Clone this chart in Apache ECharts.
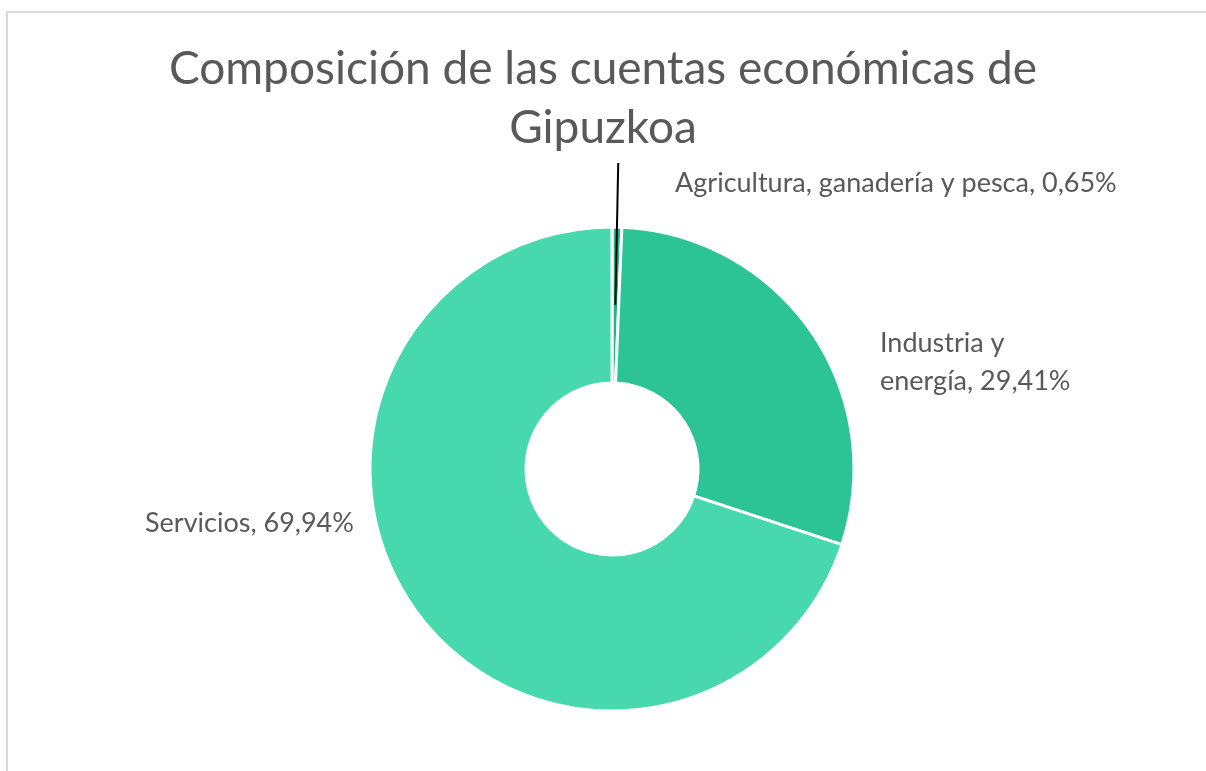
<!DOCTYPE html>
<html>
<head>
<meta charset="utf-8">
<title>Composición de las cuentas económicas de Gipuzkoa</title>
<script src="https://cdn.jsdelivr.net/npm/echarts@6/dist/echarts.min.js"></script>
<style>
  html, body { margin: 0; padding: 0; background: #fff; }
  #chart { width: 1206px; height: 771px; }
</style>
</head>
<body>
<div id="chart"></div>
<script>
// data
var sectors = ['Agricultura, ganadería y pesca', 'Industria y energía', 'Servicios']
var shares = [0.65, 29.41, 69.94]
var colors = ['#22b387', '#2cc495', '#48d8ae']

var FONT = 'Lato'
var GREY = '#595959'

function pct(v) {
  return v.toFixed(2).replace('.', ',') + '%'
}

// Industria label wraps over two lines in the original
function labelText(name, v) {
  if (name === 'Industria y energía') return 'Industria y\nenergía, ' + pct(v)
  return name + ', ' + pct(v)
}

var ringData = sectors.map(function (s, i) {
  return {
    name: s,
    value: shares[i],
    itemStyle: { color: colors[i] },
    label: { show: i > 0 }
  }
})

// overlay used only to draw the agriculture leader line (it starts inside the ring)
var leaderData = sectors.map(function (s, i) {
  return {
    name: s,
    value: shares[i],
    label: { show: i === 0 },
    labelLine: { show: i === 0 }
  }
})

// where the labels sit, by sector
var labelPos = {
  'Agricultura, ganadería y pesca': [675, 183],
  'Industria y energía': [880, 362],
  'Servicios': [145, 523]
}

var chart = echarts.init(document.getElementById('chart'))

chart.setOption({
  backgroundColor: '#fff',
  animation: false,
  title: {
    text: 'Composición de las cuentas económicas de\nGipuzkoa',
    left: 'center',
    top: 35,
    textStyle: {
      fontFamily: FONT,
      fontSize: 46,
      fontWeight: 'normal',
      color: GREY,
      lineHeight: 59
    }
  },
  graphic: [{
    type: 'rect',
    shape: { x: 7, y: 12, width: 1300, height: 900 },
    style: { fill: null, stroke: '#d9d9d9', lineWidth: 2 },
    silent: true
  }],
  series: [
    {
      type: 'pie',
      z: 2,
      center: [612, 469],
      radius: [86, 242],
      startAngle: 90,
      clockwise: true,
      avoidLabelOverlap: false,
      itemStyle: { borderColor: '#fff', borderWidth: 3 },
      label: {
        position: 'outside',
        fontFamily: FONT,
        fontSize: 27,
        color: GREY,
        lineHeight: 38,
        formatter: function (p) { return labelText(p.name, p.value) }
      },
      labelLine: { show: false },
      labelLayout: function (p) {
        var pos = labelPos[sectors[p.dataIndex]]
        return { x: pos[0], y: pos[1], align: 'left', verticalAlign: 'middle' }
      },
      emphasis: { disabled: true },
      data: ringData
    },
    {
      type: 'pie',
      z: 3,
      silent: true,
      center: [612, 469],
      radius: [0, 164],
      startAngle: 90,
      clockwise: true,
      avoidLabelOverlap: false,
      itemStyle: { color: 'rgba(0,0,0,0)' },
      label: {
        position: 'outside',
        fontFamily: FONT,
        fontSize: 27,
        color: GREY,
        formatter: function (p) { return labelText(p.name, p.value) }
      },
      labelLine: {
        length: 142,
        length2: 0,
        smooth: false,
        lineStyle: { color: '#000', width: 2 }
      },
      labelLayout: function (p) {
        var pos = labelPos[sectors[p.dataIndex]]
        return {
          x: pos[0], y: pos[1], align: 'left', verticalAlign: 'middle',
          labelLinePoints: p.labelLinePoints
        }
      },
      emphasis: { disabled: true },
      data: leaderData
    }
  ]
})
</script>
</body>
</html>
